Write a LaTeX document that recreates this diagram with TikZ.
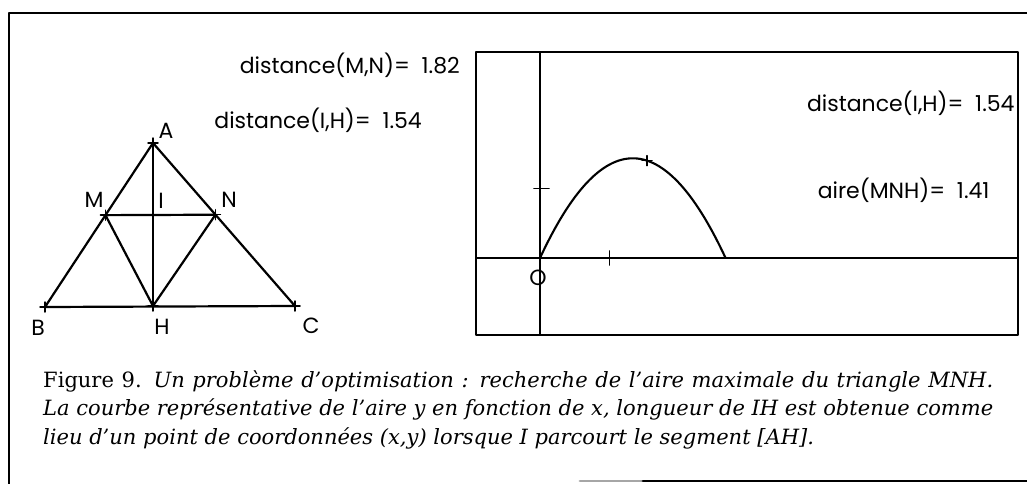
\documentclass[tikz,border=0pt]{standalone}
\usepackage{fontspec}
\setmainfont{DejaVu Serif}
\newfontfamily\geomfont{Poppins}
\usetikzlibrary{calc}

\newcommand{\legA}{Figure 9. \textit{Un problème d’optimisation : recherche de l’aire maximale du triangle MNH.}}
\newcommand{\legB}{\textit{La courbe représentative de l’aire y en fonction de x, longueur de IH est obtenue comme}}
\newcommand{\legC}{\textit{lieu d’un point de coordonnées (x,y) lorsque I parcourt le segment [AH].}}
\newlength\largA
\newlength\largB
\newlength\largE

\tikzset{
  cadre/.style={line width=2.8pt},
  trait/.style={line width=2.2pt},
  axe/.style={line width=1.7pt},
  courbe/.style={line width=2.1pt},
  etiq/.style={font=\geomfont\fontsize{\tailleetiq}{24}\selectfont,inner sep=0pt},
  legende/.style={font=\fontsize{\tailleleg}{28}\selectfont,anchor=base west,inner sep=0pt},
}
% petite croix sur un point
\newcommand{\croix}[1]{\draw[line width=1.5pt] ([xshift=-5pt]#1) -- ([xshift=5pt]#1)
  ([yshift=-5pt]#1) -- ([yshift=5pt]#1);}

\begin{document}
\settowidth\largA{\fontsize{10}{12}\selectfont\legA}
\settowidth\largB{\fontsize{10}{12}\selectfont\legB}
\settowidth\largE{\geomfont\fontsize{10}{12}\selectfont distance(M,N)=\ \ 1.82}
\pgfmathsetmacro\tailleleg{10*950/max(\largA,\largB)}
\pgfmathsetmacro\tailleetiq{10*220/\largE}
\begin{tikzpicture}[x=1pt,y=-1pt,line cap=round,line join=round]
  \path[use as bounding box,fill=white] (0,0) rectangle (1027,484);
  % cadre de la figure
  \draw[cadre] (1027,13) -- (9,13) -- (9,484);
  \draw[cadre,black!35] (580,481) -- (643,481);
  \draw[cadre] (643,481) -- (1027,481);
  % triangle ABC
  \coordinate (A) at (153,143);
  \coordinate (B) at (45,307);
  \coordinate (C) at (295,306);
  \coordinate (H) at (153,306);
  \coordinate (M) at ($(A)!0.44!(B)$);
  \coordinate (N) at ($(A)!0.44!(C)$);
  \coordinate (I) at ($(A)!0.44!(H)$);
  \draw[trait] (A) -- (B) -- (C) -- cycle;
  \draw[trait] (A) -- (H);
  \draw[trait] (M) -- (N);
  \draw[trait] (M) -- (H) -- (N);
  \foreach \p in {A,M,N,B,H,C} {\croix{\p}}
  \node[etiq] (lA) at (166,131) {A};
  \node[etiq] (lM) at (94,200) {M};
  \node[etiq] (lI) at (161,201) {I};
  \node[etiq] (lN) at (229,200) {N};
  \node[etiq] (lB) at (38,328) {B};
  \node[etiq] (lH) at (162,327) {H};
  \node[etiq] (lC) at (311,326) {C};
  \node[etiq,anchor=east] (dMN) at (460,65) {distance(M,N)=\ \ 1.82};
  \node[etiq,anchor=east] (dIH) at (422,120) {distance(I,H)=\ \ 1.54};
  % repere et courbe de l'aire
  \begin{scope}[shift={(540,258)},x=69.5pt,y=69.5pt]
    \draw[cadre] (-0.921,-1.108) rectangle (6.878,2.964);
    \draw[axe] (-0.921,0) -- (6.878,0);
    \draw[axe] (0,-1.108) -- (0,2.964);
    \draw[axe] ([xshift=-6pt]0,1) -- ([xshift=9pt]0,1);
    \draw[axe] ([yshift=-7pt]1,0) -- ([yshift=7pt]1,0);
    \draw[courbe] plot[domain=0:2.67,samples=60,smooth] (\x,{0.805*\x*(2.67-\x)});
    \coordinate (P) at (1.54,{0.805*1.54*(2.67-1.54)});
    \croix{P}
    \node[etiq] (O) at (-0.03,-0.29) {O};
    \node[etiq,anchor=east] (dIHb) at (6.83,2.23) {distance(I,H)=\ \ 1.54};
    \node[etiq,anchor=east] (aire) at (6.47,0.98) {aire(MNH)=\ \ 1.41};
  \end{scope}
  % legende
  \node[legende] (leg1) at (43,387) {\makebox[950pt][s]{\legA}};
  \node[legende] (leg2) at (43,415) {\makebox[950pt][s]{\legB}};
  \node[legende] (leg3) at (43,444) {\legC};
\end{tikzpicture}
\end{document}
